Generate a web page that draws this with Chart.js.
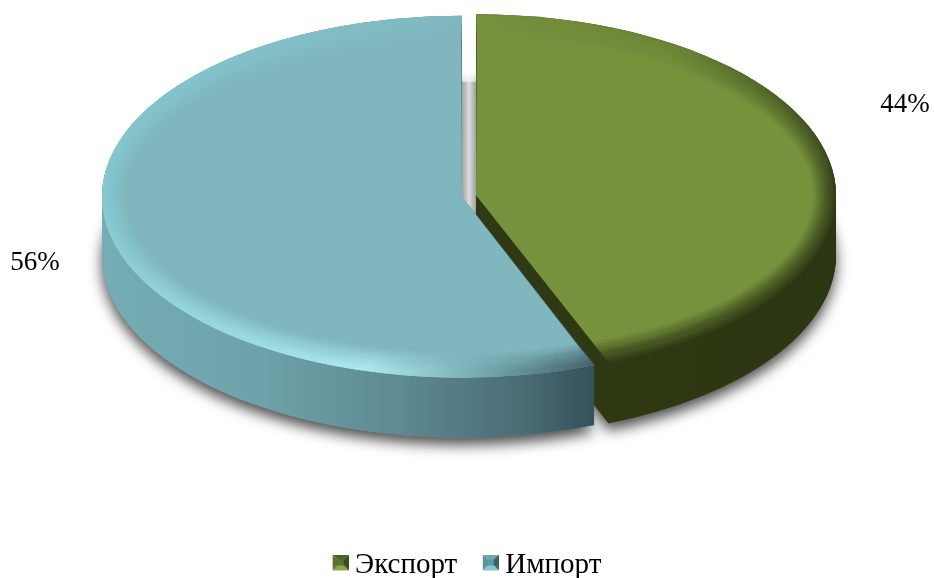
<!DOCTYPE html>
<html><head><meta charset="utf-8">
<style>html,body{margin:0;padding:0;background:#fff}#wrap{width:934px;height:578px}</style>
<script src="https://cdn.jsdelivr.net/npm/chart.js@4"></script>
</head><body><div id="wrap"><canvas id="c" width="934" height="578"></canvas></div>
<script>
const categories = ['Экспорт', 'Импорт'];
const shares = [44, 56];
const topColors = ['#76923c', '#80b7be'];
const labelAnchors = [[429, -90], [-427, 66]];
const view = { cx: 469, cy: 196, rx: 360, ry: 181, depth: 60 };
const sideStops = [
  [[0, '#2f3a14'], [1, '#2c3612']],
  [[0, '#74adb5'], [0.3, '#6fa3ab'], [0.6, '#5e8a92'], [0.85, '#4a6c75'], [1, '#35505a']]
];
// rim colour by screen angle (fraction of a turn, from 3 o'clock clockwise)
const rimStops = [
  [[0, '#333f17'], [0.18, '#2f3a14'], [0.5, '#2f3a14'], [0.75, '#76923c'], [0.9, '#6a8436'], [1, '#333f17']],
  [[0, '#3a555e'], [0.14, '#3f5c64'], [0.25, '#7fb5bd'], [0.33, '#aeecf2'], [0.42, '#9adce2'], [0.5, '#84c8d0'], [0.75, '#80b7be'], [1, '#3a555e']]
];
function bevel(c1, c2, c3, c4, c5) {
  const s = document.createElement('canvas'); s.width = 24; s.height = 22;
  const g = s.getContext('2d'); const n = 16, b = 5; g.translate(8, 0);
  const tri = (col, p) => { g.fillStyle = col; g.beginPath(); p.forEach((q, i) => i ? g.lineTo(q[0], q[1]) : g.moveTo(q[0], q[1])); g.closePath(); g.fill(); };
  tri(c1, [[0,0],[n,0],[n-b,b],[b,b]]);
  tri(c2, [[n,0],[n,n],[n-b,n-b],[n-b,b]]);
  tri(c3, [[0,n],[n,n],[n-b,n-b],[b,n-b]]);
  tri(c4, [[0,0],[0,n],[b,n-b],[b,b]]);
  g.fillStyle = c5; g.fillRect(b, b, n-2*b, n-2*b);
  return s;
}
const legendMarks = [
  bevel('#4c6024', '#3c4c1c', '#8aa84a', '#5a7230', '#5c752c'),
  bevel('#6fa9b2', '#3f5f68', '#86c8d0', '#5e929b', '#5f99a3')
];
function slices(chart) { return chart.getDatasetMeta(0).data; }
function place(el) {
  const p = el.getProps(['x','y','startAngle','endAngle','outerRadius'], true);
  const mid = (p.startAngle + p.endAngle) / 2, off = (el.options.offset || 0) / 4;
  const R = p.outerRadius + off;
  const sx = view.rx / R, sy = view.ry / R;
  return { cx: view.cx + Math.cos(mid) * off * sx, cy: view.cy + Math.sin(mid) * off * sy,
           a0: p.startAngle, a1: p.endAngle, sx, sy, p };
}
function wedge(ctx, g, dy) {
  ctx.beginPath(); ctx.moveTo(g.cx, g.cy + dy);
  ctx.ellipse(g.cx, g.cy + dy, view.rx, view.ry, 0, g.a0, g.a1);
  ctx.closePath();
}
const pseudo3d = {
  id: 'pseudo3d',
  afterLayout(chart) { chart.legend.top += 12; chart.legend.bottom += 12; },
  beforeDatasetsDraw(chart) {
    const ctx = chart.ctx, els = slices(chart);
    const gs = els.map(place);
    // soft ground shadow
    ctx.save();
    ctx.shadowColor = 'rgba(0,0,0,0.7)'; ctx.shadowBlur = 14; ctx.shadowOffsetY = 7;
    ctx.fillStyle = '#888';
    gs.forEach(g => { wedge(ctx, g, view.depth); ctx.fill(); });
    ctx.restore();
    // inner wall seen through the gap
    const wall = ctx.createLinearGradient(view.cx - 7, 0, view.cx + 7, 0);
    wall.addColorStop(0, '#a3a3a3'); wall.addColorStop(0.5, '#dcdcdc'); wall.addColorStop(1, '#a0a0a0');
    ctx.fillStyle = wall;
    ctx.fillRect(view.cx - 7, view.cy - 114, 14, 135);
    // extruded sides
    gs.forEach((g, i) => {
      const grad = ctx.createLinearGradient(i ? g.cx - view.rx : g.cx, 0, i ? g.cx + Math.cos(g.a0) * view.rx + 2 : g.cx + view.rx, 0);
      sideStops[i].forEach(s => grad.addColorStop(s[0], s[1]));
      ctx.fillStyle = grad;
      for (let d = view.depth; d >= 0; d--) { wedge(ctx, g, d); ctx.fill(); }
    });
    // squash the library's own arcs into the tilted top face
    const g0 = gs[0];
    ctx.save();
    ctx.translate(view.cx, view.cy);
    ctx.scale(g0.sx, g0.sy);
    ctx.translate(-g0.p.x, -g0.p.y);
  },
  afterDatasetsDraw(chart) {
    const ctx = chart.ctx; ctx.restore();
    slices(chart).map(place).forEach((g, i) => {
      ctx.save();
      wedge(ctx, g, 0); ctx.clip();
      const con = ctx.createConicGradient(0, g.cx, g.cy);
      rimStops[i].forEach(s => con.addColorStop(s[0], s[1]));
      ctx.strokeStyle = con; ctx.lineWidth = 1.6;
      const w = 24;
      for (let k = w; k >= 0; k--) {
        ctx.globalAlpha = Math.pow(1 - k / w, 1.2);
        ctx.beginPath();
        ctx.ellipse(g.cx, g.cy, view.rx - k, view.ry - k * 1.1, 0, 0, Math.PI * 2);
        ctx.stroke();
      }
      ctx.restore();
    });
  },
  afterDraw(chart) {
    const ctx = chart.ctx;
    ctx.save();
    ctx.font = '27px "Liberation Serif"';
    ctx.fillStyle = '#000'; ctx.textAlign = 'center'; ctx.textBaseline = 'middle';
    slices(chart).map(place).forEach((g, i) => {
      ctx.fillText(shares[i] + '%', g.cx + labelAnchors[i][0], g.cy + labelAnchors[i][1]);
    });
    ctx.restore();
  }
};
new Chart(document.getElementById('c'), {
  type: 'pie',
  data: { labels: categories, datasets: [{ data: shares, backgroundColor: topColors, borderWidth: 0, offset: 20 }] },
  options: {
    responsive: false, animation: false,
    plugins: {
      tooltip: { enabled: false },
      legend: { position: 'bottom',
        labels: { usePointStyle: true, boxWidth: 8, padding: 25.5, color: '#000',
          font: { family: '"Liberation Serif"', size: 29 },
          generateLabels(chart) {
            return categories.map((t, i) => ({ text: t, fillStyle: topColors[i], strokeStyle: topColors[i], lineWidth: 0,
              pointStyle: legendMarks[i], fontColor: '#000', hidden: false, index: i }));
          } } }
    }
  },
  plugins: [pseudo3d]
});
</script></body></html>
